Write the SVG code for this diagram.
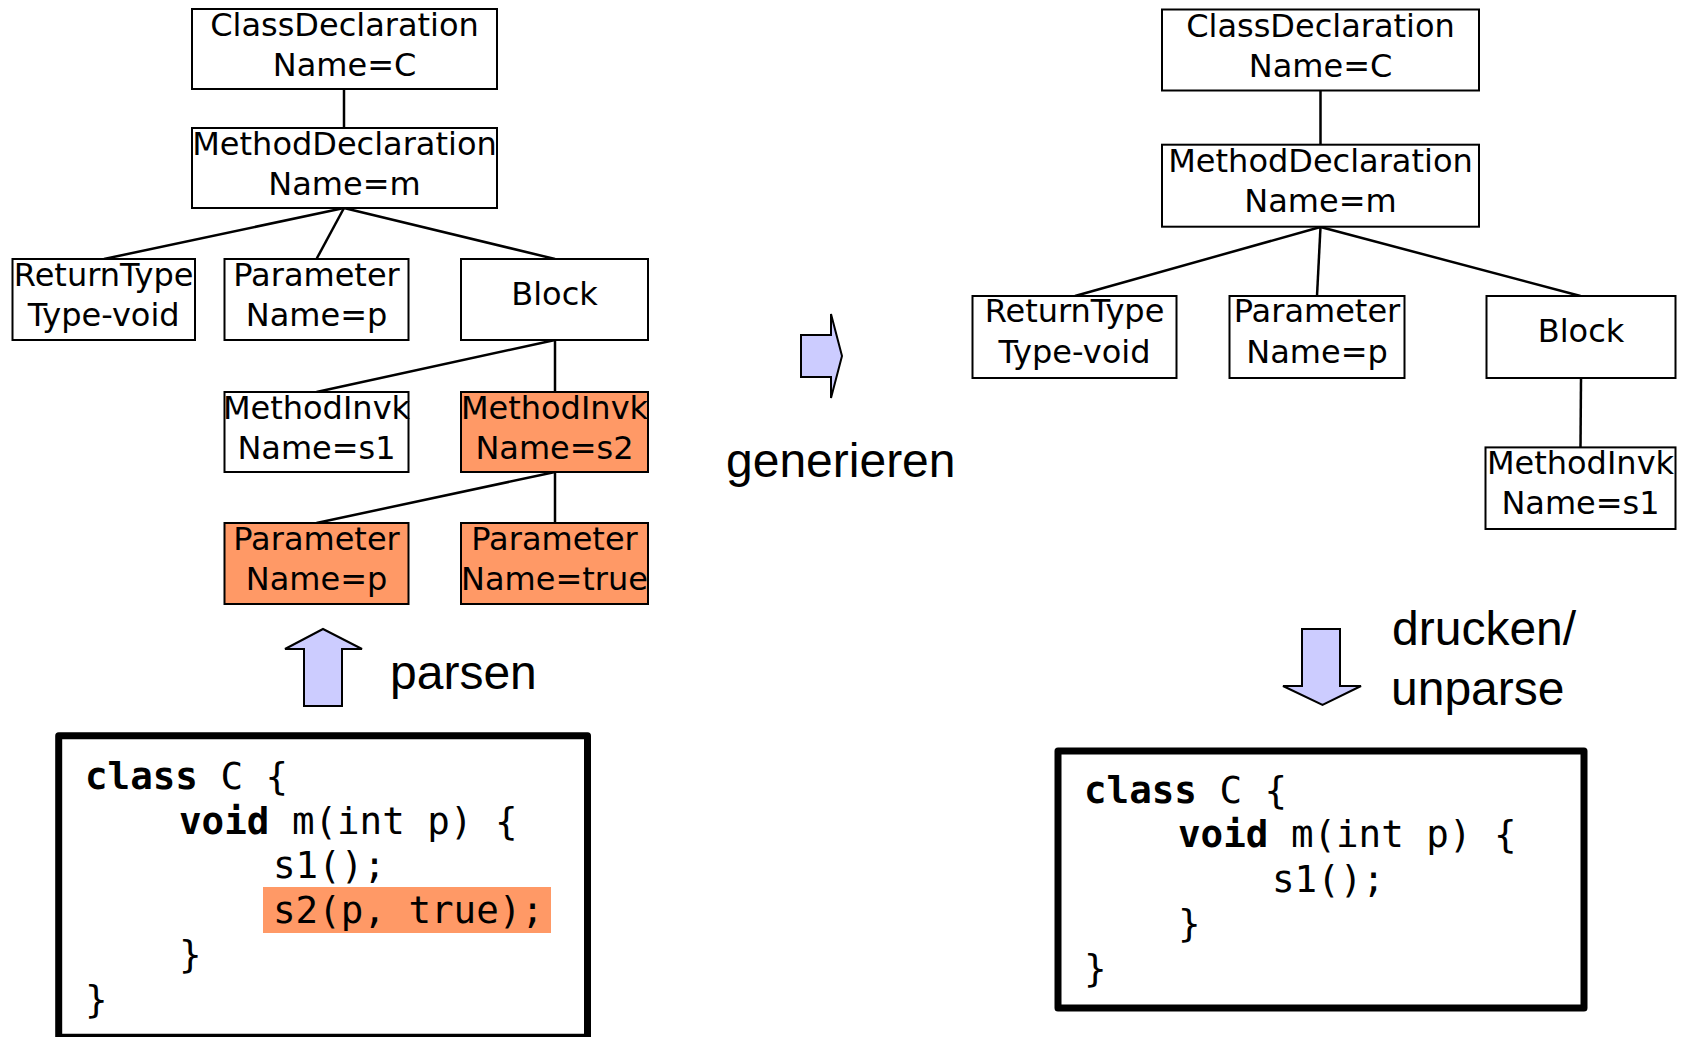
<svg xmlns="http://www.w3.org/2000/svg" width="1692" height="1037" viewBox="0 0 1692 1037">
<style>
.box{fill:#ffffff;stroke:#000000;stroke-width:2}
.hl{fill:#FF9966;stroke:#000000;stroke-width:2}
.t{font-family:"DejaVu Sans",sans-serif;font-size:32px;fill:#000000;text-anchor:middle}
.edge{stroke:#000000;stroke-width:2.5;fill:none}
.arrow{fill:#CCCCFF;stroke:#000000;stroke-width:2;stroke-linejoin:miter}
.lbl{font-family:"Liberation Sans",Arial,sans-serif;font-size:48px;fill:#000000}
.code{fill:#ffffff;stroke:#000000;stroke-width:7;stroke-linejoin:round}
.c{font-family:"DejaVu Sans Mono",monospace;font-size:37.5px;fill:#000000}
.b{font-weight:bold}
</style>
<rect width="1692" height="1037" fill="#ffffff"/>
<g id="connectors">
<line class="edge" x1="344" y1="89" x2="344" y2="128"/>
<line class="edge" x1="344" y1="208" x2="104" y2="259"/>
<line class="edge" x1="344" y1="208" x2="316.5" y2="259"/>
<line class="edge" x1="344" y1="208" x2="555" y2="259"/>
<line class="edge" x1="555" y1="340" x2="316.5" y2="392"/>
<line class="edge" x1="555" y1="340" x2="555" y2="392"/>
<line class="edge" x1="555" y1="472" x2="316.5" y2="523"/>
<line class="edge" x1="555" y1="472" x2="555" y2="523"/>
<line class="edge" x1="1320.5" y1="90.5" x2="1320.5" y2="144.7"/>
<line class="edge" x1="1320.5" y1="227" x2="1075" y2="296"/>
<line class="edge" x1="1320.5" y1="227" x2="1317" y2="296"/>
<line class="edge" x1="1320.5" y1="227" x2="1580.5" y2="296"/>
<line class="edge" x1="1581" y1="378" x2="1580.5" y2="447.4"/>
</g>
<g id="L_ClassDeclaration"><rect class="box" x="192" y="9" width="305" height="80"/><text class="t" x="344.5" y="36">ClassDeclaration</text><text class="t" x="344.5" y="76">Name=C</text></g>
<g id="L_MethodDeclaration"><rect class="box" x="192" y="128" width="305" height="80"/><text class="t" x="344.5" y="155">MethodDeclaration</text><text class="t" x="344.5" y="195">Name=m</text></g>
<g id="L_ReturnType"><rect class="box" x="12.5" y="259" width="182.5" height="81"/><text class="t" x="103.7" y="286">ReturnType</text><text class="t" x="103.7" y="326">Type-void</text></g>
<g id="L_Parameter"><rect class="box" x="224.5" y="259" width="184" height="81"/><text class="t" x="316.5" y="286">Parameter</text><text class="t" x="316.5" y="326">Name=p</text></g>
<g id="L_Block"><rect class="box" x="461" y="259" width="187" height="81"/><text class="t" x="554.5" y="305">Block</text></g>
<g id="L_MethodInvk_s1"><rect class="box" x="224.5" y="392" width="184" height="80"/><text class="t" x="316.5" y="419">MethodInvk</text><text class="t" x="316.5" y="459">Name=s1</text></g>
<g id="L_MethodInvk_s2"><rect class="hl" x="461" y="392" width="187" height="80"/><text class="t" x="554.5" y="419">MethodInvk</text><text class="t" x="554.5" y="459">Name=s2</text></g>
<g id="L_Parameter_p"><rect class="hl" x="224.5" y="523" width="184" height="81"/><text class="t" x="316.5" y="550">Parameter</text><text class="t" x="316.5" y="590">Name=p</text></g>
<g id="L_Parameter_true"><rect class="hl" x="461" y="523" width="187" height="81"/><text class="t" x="554.5" y="550">Parameter</text><text class="t" x="554.5" y="590">Name=true</text></g>
<g id="R_ClassDeclaration"><rect class="box" x="1162" y="9.5" width="317" height="81"/><text class="t" x="1320.5" y="36.5">ClassDeclaration</text><text class="t" x="1320.5" y="76.5">Name=C</text></g>
<g id="R_MethodDeclaration"><rect class="box" x="1162" y="144.7" width="317" height="82"/><text class="t" x="1320.5" y="172">MethodDeclaration</text><text class="t" x="1320.5" y="212">Name=m</text></g>
<g id="R_ReturnType"><rect class="box" x="972.5" y="296" width="204" height="82"/><text class="t" x="1074.5" y="322">ReturnType</text><text class="t" x="1074.5" y="363">Type-void</text></g>
<g id="R_Parameter"><rect class="box" x="1229.5" y="296" width="175" height="82"/><text class="t" x="1317" y="322">Parameter</text><text class="t" x="1317" y="363">Name=p</text></g>
<g id="R_Block"><rect class="box" x="1486.5" y="296" width="189" height="82"/><text class="t" x="1581" y="342">Block</text></g>
<g id="R_MethodInvk_s1"><rect class="box" x="1485.5" y="447.4" width="190" height="81.6"/><text class="t" x="1580.5" y="474">MethodInvk</text><text class="t" x="1580.5" y="514">Name=s1</text></g>
<g id="arrow_parsen"><polygon class="arrow" points="323,629 362,649 342,649 342,706 304,706 304,649 285,649"/><text class="lbl" x="390" y="689">parsen</text></g>
<g id="arrow_generieren"><polygon class="arrow" points="801,335 831,335 831,314 842,356 831,398 831,377 801,377"/><text class="lbl" x="726" y="477">generieren</text></g>
<g id="arrow_drucken"><polygon class="arrow" points="1302,629 1340,629 1340,686 1361,686 1322.5,705 1283,686 1302,686"/><text class="lbl" x="1392" y="644.5">drucken/</text><text class="lbl" x="1391" y="704.5">unparse</text></g>
<g id="L_code">
<rect class="code" x="58.7" y="735.8" width="528.8" height="301.5"/>
<rect x="263" y="887" width="288" height="46" fill="#FF9966"/>
<text class="c" x="85" y="789"><tspan class="b">class</tspan> C {</text>
<text class="c" x="179" y="833.6"><tspan class="b">void</tspan> m(int p) {</text>
<text class="c" x="273" y="878.2">s1();</text>
<text class="c" x="273" y="922.8">s2(p, true);</text>
<text class="c" x="179" y="967.4">}</text>
<text class="c" x="85" y="1012">}</text>
</g>
<g id="R_code">
<rect class="code" x="1058" y="751" width="526" height="257"/>
<text class="c" x="1084" y="803"><tspan class="b">class</tspan> C {</text>
<text class="c" x="1178" y="847.4"><tspan class="b">void</tspan> m(int p) {</text>
<text class="c" x="1272" y="891.8">s1();</text>
<text class="c" x="1178" y="936.2">}</text>
<text class="c" x="1084" y="980.6">}</text>
</g>
</svg>
